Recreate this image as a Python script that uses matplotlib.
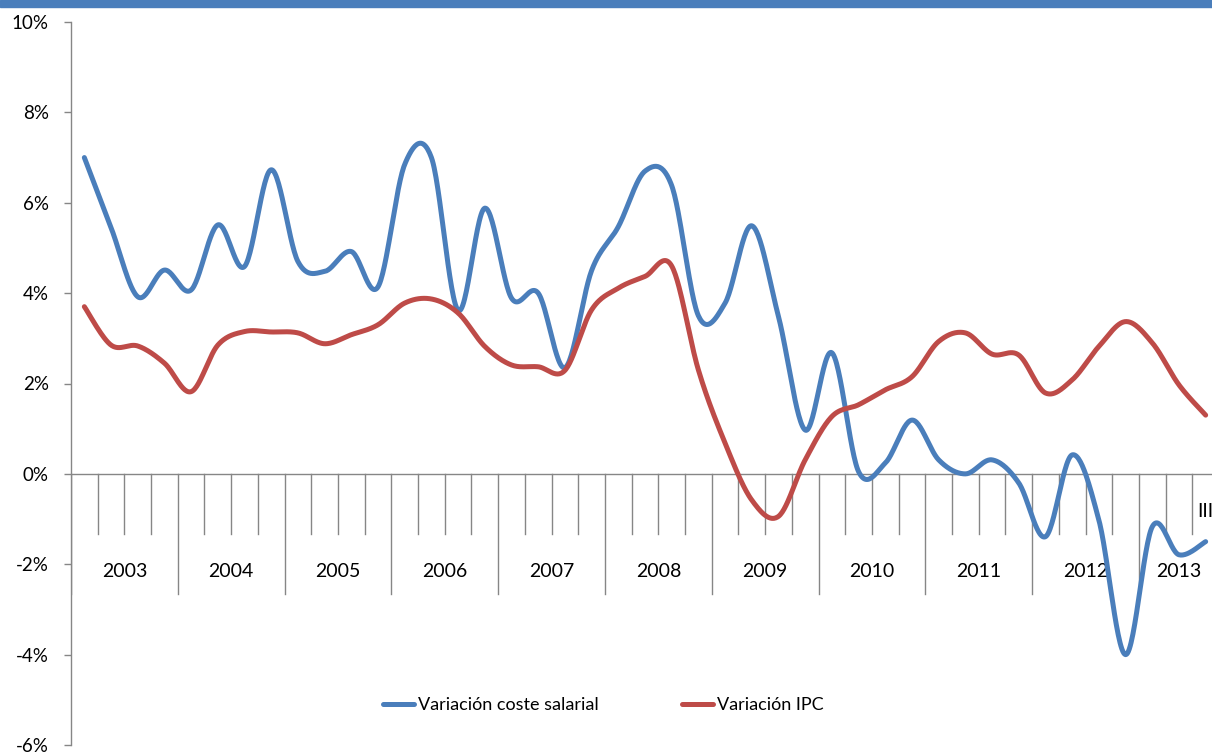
import numpy as np
import matplotlib
matplotlib.use("Agg")
from matplotlib import pyplot as plt
from matplotlib.lines import Line2D
from matplotlib.patches import Rectangle

plt.rcParams["font.family"] = ["Lato", "DejaVu Sans"]

# data: quarterly, 2003-I .. 2013-III
years = ["2003", "2004", "2005", "2006", "2007", "2008",
         "2009", "2010", "2011", "2012", "2013"]
quarters_per_year = [4, 4, 4, 4, 4, 4, 4, 4, 4, 4, 3]
last_quarter_label = "III"

coste_salarial = [
    7.0, 5.45, 3.92, 4.51, 4.07, 5.51, 4.59, 6.73, 4.70, 4.48, 4.92,
    4.14, 6.85, 7.0, 3.62, 5.88, 3.89, 4.00, 2.35, 4.50, 5.47, 6.70,
    6.38, 3.50, 3.78, 5.49, 3.48, 0.97, 2.68, 0.05, 0.24, 1.19, 0.31,
    0.00, 0.31, -0.20, -1.39, 0.42, -1.02, -4.00, -1.17, -1.79, -1.50,
]
ipc = [
    3.70, 2.85, 2.83, 2.45, 1.82, 2.85, 3.15, 3.14, 3.12, 2.88, 3.08,
    3.30, 3.78, 3.87, 3.56, 2.82, 2.41, 2.37, 2.29, 3.63, 4.11, 4.37,
    4.60, 2.30, 0.68, -0.58, -0.94, 0.31, 1.27, 1.53, 1.86, 2.15, 2.93,
    3.12, 2.65, 2.63, 1.79, 2.08, 2.82, 3.37, 2.90, 1.97, 1.30,
]
series_names = ["Variación coste salarial", "Variación IPC"]
series_colors = ["#4a7ebb", "#be4b48"]


def smooth(x, y, n=30):
    """Excel-like smoothed line (cubic Bezier through the points)."""
    x = np.asarray(x, dtype=float)
    y = np.asarray(y, dtype=float)
    px = np.concatenate([[x[0]], x, [x[-1]]])
    py = np.concatenate([[y[0]], y, [y[-1]]])
    t = np.linspace(0, 1, n)[:, None]
    out_x, out_y = [], []
    for i in range(len(x) - 1):
        p0 = np.array([px[i + 1], py[i + 1]])
        p3 = np.array([px[i + 2], py[i + 2]])
        c1 = p0 + (p3 - np.array([px[i], py[i]])) / 6.0
        c2 = p3 - (np.array([px[i + 3], py[i + 3]]) - p0) / 6.0
        pts = ((1 - t) ** 3) * p0 + 3 * ((1 - t) ** 2) * t * c1 \
            + 3 * (1 - t) * t ** 2 * c2 + t ** 3 * p3
        out_x.append(pts[:, 0])
        out_y.append(pts[:, 1])
    return np.concatenate(out_x), np.concatenate(out_y)


n_q = sum(quarters_per_year)
xq = np.arange(n_q)

fig = plt.figure(figsize=(12.12, 7.52), dpi=100)
fig.add_artist(Rectangle((0, 1 - 7 / 752), 1, 7 / 752, transform=fig.transFigure,
                         color="#4a7ebb", zorder=0))

ax = fig.add_axes([71 / 1212, 7 / 752, 1148 / 1212, 723 / 752])
ax.set_xlim(-0.5, n_q - 0.5)
ax.set_ylim(-6, 10)

axis_color = "#868686"
for s in ["top", "right", "bottom"]:
    ax.spines[s].set_visible(False)
ax.spines["left"].set_color(axis_color)
ax.spines["left"].set_linewidth(1.0)

ax.set_yticks(np.arange(-6, 11, 2))
ax.set_yticklabels([f"{v}%" for v in range(-6, 11, 2)])
ax.tick_params(axis="y", length=5, width=1.0, color=axis_color, pad=11,
               labelsize=13.5, labelcolor="#000000")
ax.set_xticks([])

# category axis at 0
ax.axhline(0, color=axis_color, linewidth=1.0, zorder=1)
bounds = np.arange(n_q + 1) - 0.5
year_bounds = np.concatenate([[0], np.cumsum(quarters_per_year)]) - 0.5
for b in bounds:
    if b in year_bounds:
        ax.plot([b, b], [0, -2.65], color=axis_color, linewidth=1.0, zorder=1)
    else:
        ax.plot([b, b], [0, -1.33], color=axis_color, linewidth=1.0, zorder=1)

for i, yr in enumerate(years):
    center = (year_bounds[i] + year_bounds[i + 1]) / 2
    ax.text(center, -2.15, yr, ha="center", va="center", fontsize=14)
ax.text(n_q - 1, -0.84, last_quarter_label, ha="center", va="center", fontsize=14)

for vals, name, col in zip([coste_salarial, ipc], series_names, series_colors):
    sx, sy = smooth(xq, vals)
    ax.plot(sx, sy, color=col, linewidth=3.6, solid_capstyle="round",
            solid_joinstyle="round", zorder=3, label=name)

handles = [Line2D([], [], color=c, linewidth=3.6, solid_capstyle="round")
           for c in series_colors]
fig.legend(handles, series_names, loc="center", ncol=2,
           bbox_to_anchor=(603 / 1212, 1 - 705 / 752), frameon=False,
           fontsize=13, handlelength=1.75, handletextpad=0.2, columnspacing=4.6)

plt.savefig("out.png", dpi=100)
